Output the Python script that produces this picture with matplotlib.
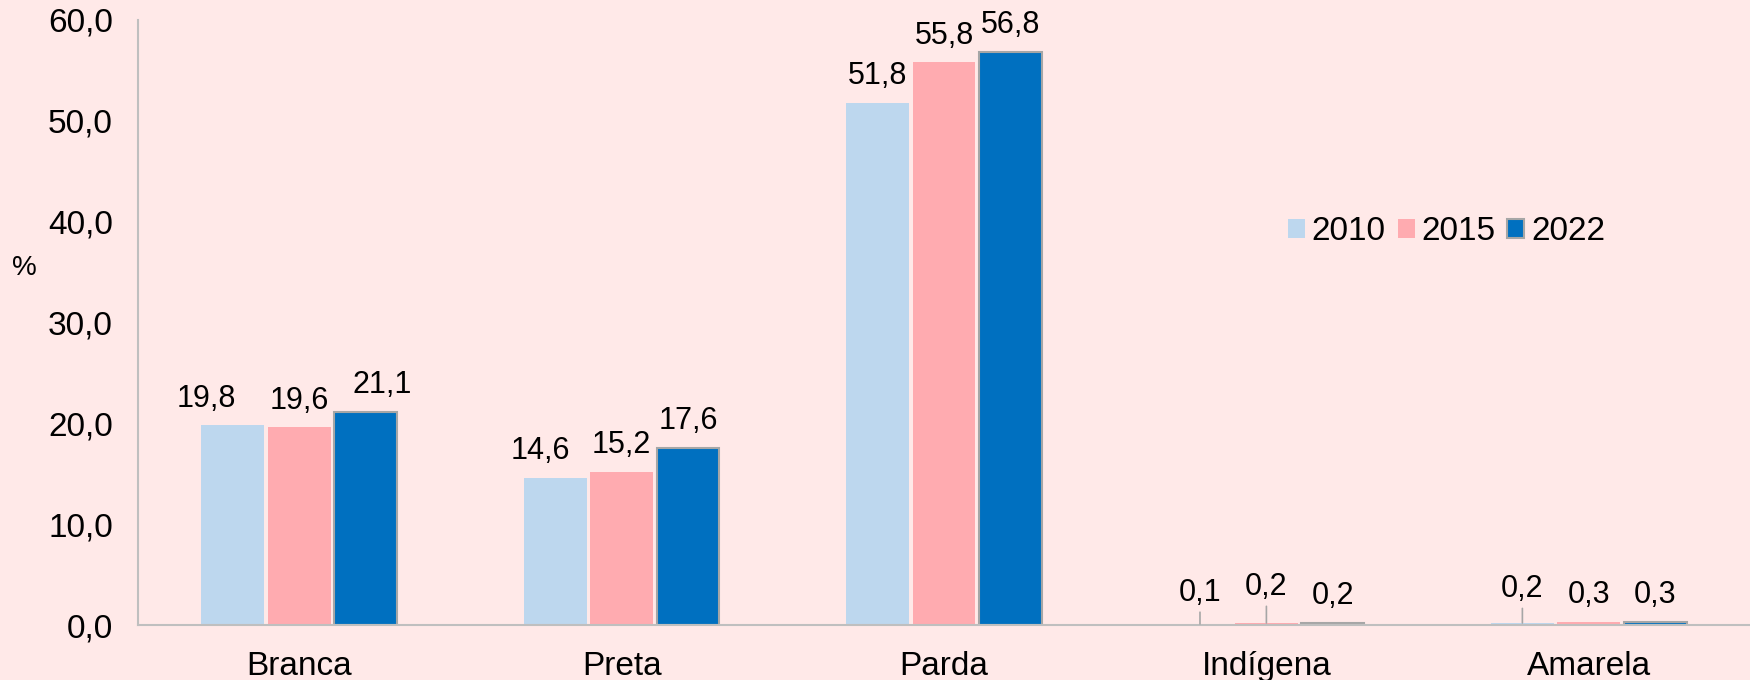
import numpy as np
import matplotlib.pyplot as plt

plt.rcParams['font.family'] = ['Liberation Sans', 'DejaVu Sans']

categorias = ["Branca", "Preta", "Parda", "Indígena", "Amarela"]
anos = ["2010", "2015", "2022"]
v2010 = [19.8, 14.6, 51.8, 0.1, 0.2]
v2015 = [19.6, 15.2, 55.8, 0.2, 0.3]
v2022 = [21.1, 17.6, 56.8, 0.2, 0.3]
yticks = [0, 10, 20, 30, 40, 50, 60]

cores = ["#BDD7EE", "#FFABB0", "#0070C0"]
bordas = ["none", "none", "#A6A6A6"]
fundo = "#FFE9E8"

# label nudges (points): (serie, categoria) -> (dx, dy) ; leader line when lifted
ajustes = {
    (0, 0): (-19, 0), (2, 0): (12, 0), (0, 1): (-11, 0),
    (0, 3): (0, 3), (1, 3): (0, 6.5), (0, 4): (0, 5),
}
com_linha = {(0, 3), (1, 3), (0, 4)}

fs = 24
fs_val = 22

fig = plt.figure(figsize=(17.5, 6.8), dpi=100, facecolor=fundo)
ax = fig.add_axes([138 / 1750, 55 / 680, 1 - 138 / 1750, 605 / 680])
ax.set_facecolor(fundo)

x = np.arange(len(categorias))
passo = 0.206
largura = 0.195
series = [v2010, v2015, v2022]

for i, vals in enumerate(series):
    pos = x + (i - 1) * passo
    ax.bar(pos, vals, largura, color=cores[i], edgecolor=bordas[i],
           linewidth=1.5 if i == 2 else 0, label=anos[i], zorder=2)
    for j, v in enumerate(vals):
        dx, dy = ajustes.get((i, j), (0, 0))
        txt = f"{v:.1f}".replace(".", ",")
        linha = None
        if (i, j) in com_linha:
            linha = dict(arrowstyle="-", color="#A6A6A6", lw=1.2,
                         shrinkA=1, shrinkB=0)
        ax.annotate(txt, xy=(pos[j], v), xytext=(dx, 8.5 + dy),
                    textcoords="offset points", ha="center", va="bottom",
                    fontsize=fs_val, arrowprops=linha)

ax.set_xlim(-0.5, 4.5)
ax.set_ylim(0, 60)
ax.set_yticks(yticks)
ax.set_yticklabels([f"{t:.1f}".replace(".", ",") for t in yticks], fontsize=fs)
ax.set_xticks(x)
ax.set_xticklabels(categorias, fontsize=fs)
ax.tick_params(axis="y", length=0, pad=18)
ax.tick_params(axis="x", length=0, pad=19)

for s in ["top", "right"]:
    ax.spines[s].set_visible(False)
for s in ["left", "bottom"]:
    ax.spines[s].set_color("#BFBFBF")
    ax.spines[s].set_linewidth(1.5)

fig.text(24 / 1750, 1 - 268 / 680, "%", fontsize=20, ha="center", va="center")

leg = ax.legend(loc="center left", bbox_to_anchor=(1288 / 1750, 1 - 232 / 680),
                bbox_transform=fig.transFigure, ncol=3, frameon=False,
                fontsize=fs, handlelength=0.51, handleheight=0.51,
                handletextpad=0.2, columnspacing=0.36, borderaxespad=0,
                borderpad=0)

plt.savefig("out.png", dpi=100, facecolor=fundo)
plt.close()
